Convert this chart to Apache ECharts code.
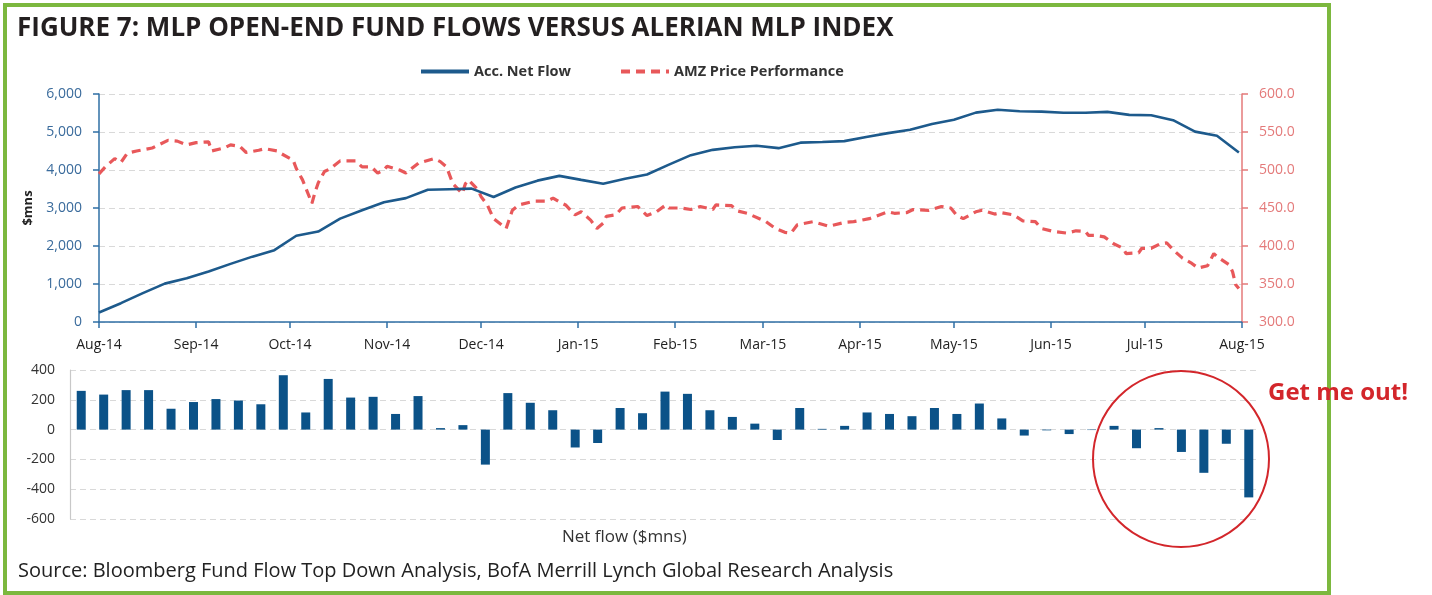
<!DOCTYPE html>
<html>
<head>
<meta charset="utf-8">
<script src="https://cdn.jsdelivr.net/npm/echarts@6/dist/echarts.min.js"></script>
<style>
  html, body { margin: 0; padding: 0; background: #fff; }
  #chart { width: 1432px; height: 595px; }
</style>
</head>
<body>
<div id="chart"></div>
<script>
// weekly points (Fridays)
const weekDates = [
  '2014-08-01', '2014-08-08', '2014-08-15', '2014-08-22', '2014-08-29', '2014-09-05', '2014-09-12', '2014-09-19',
  '2014-09-26', '2014-10-03', '2014-10-10', '2014-10-17', '2014-10-24', '2014-10-31', '2014-11-07', '2014-11-14',
  '2014-11-21', '2014-11-28', '2014-12-05', '2014-12-12', '2014-12-19', '2014-12-26', '2015-01-02', '2015-01-09',
  '2015-01-16', '2015-01-23', '2015-01-30', '2015-02-06', '2015-02-13', '2015-02-20', '2015-02-27', '2015-03-06',
  '2015-03-13', '2015-03-20', '2015-03-27', '2015-04-03', '2015-04-10', '2015-04-17', '2015-04-24', '2015-05-01',
  '2015-05-08', '2015-05-15', '2015-05-22', '2015-05-29', '2015-06-05', '2015-06-12', '2015-06-19', '2015-06-26',
  '2015-07-03', '2015-07-10', '2015-07-17', '2015-07-24', '2015-07-31'
];

// Acc. Net Flow ($mns)
const accNetFlow = [
  250, 495, 760, 1010, 1150, 1330, 1530, 1720, 1890, 2270, 2380, 2720, 2940, 3150, 3260, 3480,
  3495, 3510, 3290, 3540, 3720, 3845, 3740, 3640, 3770, 3880, 4140, 4390, 4530, 4600, 4640, 4575,
  4720, 4735, 4760, 4870, 4970, 5060, 5210, 5320, 5510, 5585, 5545, 5535, 5505, 5505, 5530, 5450,
  5440, 5310, 5010, 4900, 4460
];

// weekly net flow ($mns)
const netFlow = [
  260, 235, 265, 265, 140, 185, 205, 195, 170, 365, 115, 340, 215, 220, 105, 225,
  10, 30, -235, 245, 180, 130, -120, -90, 145, 110, 255, 240, 130, 85, 40, -70,
  145, 5, 25, 115, 105, 90, 145, 105, 175, 75, -40, -5, -30, -3, 25, -125,
  10, -150, -290, -95, -455
];

// AMZ price performance
const priceDates = [
  '2014-08-01', '2014-08-03', '2014-08-06', '2014-08-08', '2014-08-10', '2014-08-13', '2014-08-18', '2014-08-23', '2014-08-26', '2014-08-29',
  '2014-09-01', '2014-09-05', '2014-09-06', '2014-09-10', '2014-09-12', '2014-09-15', '2014-09-17', '2014-09-21', '2014-09-23', '2014-09-27',
  '2014-09-28', '2014-10-02', '2014-10-03', '2014-10-05', '2014-10-08', '2014-10-09', '2014-10-10', '2014-10-12', '2014-10-14', '2014-10-17',
  '2014-10-22', '2014-10-24', '2014-10-27', '2014-10-29', '2014-10-31', '2014-11-01', '2014-11-05', '2014-11-07', '2014-11-11', '2014-11-16',
  '2014-11-18', '2014-11-20', '2014-11-21', '2014-11-22', '2014-11-25', '2014-11-26', '2014-11-27', '2014-11-30', '2014-12-01', '2014-12-03',
  '2014-12-05', '2014-12-09', '2014-12-11', '2014-12-13', '2014-12-18', '2014-12-22', '2014-12-24', '2014-12-26', '2014-12-28', '2014-12-31',
  '2015-01-02', '2015-01-05', '2015-01-07', '2015-01-09', '2015-01-10', '2015-01-13', '2015-01-15', '2015-01-20', '2015-01-23', '2015-01-26',
  '2015-01-29', '2015-01-30', '2015-02-03', '2015-02-06', '2015-02-09', '2015-02-13', '2015-02-14', '2015-02-19', '2015-02-21', '2015-02-24',
  '2015-03-02', '2015-03-05', '2015-03-08', '2015-03-10', '2015-03-12', '2015-03-17', '2015-03-22', '2015-03-27', '2015-03-30', '2015-04-04',
  '2015-04-10', '2015-04-12', '2015-04-16', '2015-04-18', '2015-04-23', '2015-04-27', '2015-04-30', '2015-05-02', '2015-05-04', '2015-05-08',
  '2015-05-10', '2015-05-14', '2015-05-16', '2015-05-20', '2015-05-23', '2015-05-27', '2015-05-29', '2015-06-02', '2015-06-06', '2015-06-09',
  '2015-06-12', '2015-06-13', '2015-06-15', '2015-06-18', '2015-06-21', '2015-06-24', '2015-06-25', '2015-06-29', '2015-06-30', '2015-07-03',
  '2015-07-06', '2015-07-08', '2015-07-10', '2015-07-13', '2015-07-16', '2015-07-18', '2015-07-21', '2015-07-23', '2015-07-24', '2015-07-28',
  '2015-07-29', '2015-07-30', '2015-07-31'
];
const priceValues = [
  495, 504, 515, 510, 522, 525, 529, 539, 538, 533,
  536, 537, 525, 529, 533, 531, 523, 526, 528, 525,
  522, 513, 502, 487, 456, 471, 483, 498, 502, 512,
  512, 504, 504, 496, 500, 505, 500, 496, 509, 515,
  511, 504, 493, 482, 469, 482, 487, 474, 465, 454,
  436, 423, 447, 454, 459, 459, 463, 458, 454, 441,
  445, 434, 423, 430, 439, 441, 450, 452, 440, 445,
  454, 450, 450, 448, 452, 448, 454, 453, 446, 443,
  432, 423, 418, 417, 428, 432, 426, 431, 432, 436,
  445, 443, 444, 448, 447, 452, 450, 440, 436, 445,
  447, 442, 444, 441, 433, 432, 423, 419, 417, 420,
  419, 414, 414, 412, 403, 397, 390, 391, 397, 397,
  403, 404, 395, 384, 377, 371, 374, 390, 386, 375,
  366, 349, 344
];

const monthNames = ['Jan', 'Feb', 'Mar', 'Apr', 'May', 'Jun', 'Jul', 'Aug', 'Sep', 'Oct', 'Nov', 'Dec'];

const BLUE = '#1d5a8c';
const BAR = '#0b5288';
const RED = '#e8585a';
const AXISRED = '#e47a7a';
const FONT = 'Open Sans';
const DAY = 24 * 3600 * 1000;

const chart = echarts.init(document.getElementById('chart'));

const option = {
  backgroundColor: '#fff',
  animation: false,
  textStyle: { fontFamily: FONT },
  title: {
    text: 'FIGURE 7: MLP OPEN-END FUND FLOWS VERSUS ALERIAN MLP INDEX',
    left: 12,
    top: 11,
    textStyle: { fontFamily: FONT, fontWeight: 'bold', fontSize: 26, color: '#231f20' }
  },
  legend: {
    left: 414,
    top: 59,
    itemWidth: 48,
    itemHeight: 10,
    itemGap: 48,
    itemStyle: { opacity: 0 },
    lineStyle: { width: 4 },
    textStyle: { fontFamily: FONT, fontWeight: 'bold', fontSize: 14.5, color: '#333' },
    data: ['Acc. Net Flow', 'AMZ Price Performance']
  },
  grid: [
    { left: 99, right: 190, top: 94, bottom: 273 },
    { left: 70, right: 172, top: 370, bottom: 76 }
  ],
  xAxis: [
    {
      type: 'time',
      gridIndex: 0,
      min: '2014-08-01',
      max: '2015-08-01',
      splitNumber: 12,
      minInterval: 28 * DAY,
      maxInterval: 31 * DAY,
      axisLine: { lineStyle: { color: '#2f6fa5', width: 1.5 } },
      axisTick: { show: true, length: 6, lineStyle: { color: '#2f6fa5', width: 1.5 } },
      splitLine: { show: false },
      axisLabel: {
        margin: 16,
        fontSize: 14,
        color: '#222',
        showMinLabel: true,
        showMaxLabel: true,
        formatter: function (v) {
          const d = new Date(v);
          return monthNames[d.getMonth()] + '-' + String(d.getFullYear()).slice(2);
        }
      }
    },
    {
      type: 'category',
      gridIndex: 1,
      data: weekDates,
      axisLine: { show: false },
      axisTick: { show: false },
      axisLabel: { show: false }
    }
  ],
  yAxis: [
    {
      type: 'value',
      gridIndex: 0,
      min: 0,
      max: 6000,
      interval: 1000,
      name: '$mns',
      nameLocation: 'middle',
      nameGap: 64,
      nameRotate: 90,
      nameTextStyle: { fontFamily: FONT, fontWeight: 'bold', fontSize: 13, color: '#222' },
      axisLine: { show: true, lineStyle: { color: '#2f6fa5', width: 1.5 } },
      axisTick: { show: true, length: 6, lineStyle: { color: '#2f6fa5', width: 1.5 } },
      axisLabel: {
        margin: 17,
        fontSize: 14,
        color: '#3a6b9c',
        formatter: function (v) { return v.toLocaleString('en-US'); }
      },
      splitLine: { lineStyle: { color: '#d9d9d9', type: [6, 4], width: 1.2 } }
    },
    {
      type: 'value',
      gridIndex: 0,
      position: 'right',
      min: 300,
      max: 600,
      interval: 50,
      axisLine: { show: true, lineStyle: { color: AXISRED, width: 1.5 } },
      axisTick: { show: true, length: 6, lineStyle: { color: AXISRED, width: 1.5 } },
      axisLabel: {
        margin: 17,
        fontSize: 14,
        color: AXISRED,
        formatter: function (v) { return v.toFixed(1); }
      },
      splitLine: { show: false }
    },
    {
      type: 'value',
      gridIndex: 1,
      min: -600,
      max: 400,
      interval: 200,
      axisLine: { show: true, lineStyle: { color: '#c8c8c8', width: 1.2 } },
      axisTick: { show: false },
      axisLabel: { margin: 15, fontSize: 14, color: '#333' },
      splitLine: { lineStyle: { color: '#d9d9d9', type: [6, 4], width: 1.2 } }
    }
  ],
  series: [
    {
      name: 'Acc. Net Flow',
      type: 'line',
      xAxisIndex: 0,
      yAxisIndex: 0,
      symbol: 'none',
      color: BLUE,
      lineStyle: { color: BLUE, width: 2.6 },
      z: 3,
      data: weekDates.map((d, i) => [d, accNetFlow[i]])
    },
    {
      name: 'AMZ Price Performance',
      type: 'line',
      xAxisIndex: 0,
      yAxisIndex: 1,
      symbol: 'none',
      color: RED,
      lineStyle: { color: RED, width: 3.2, type: [9, 6] },
      z: 2,
      data: priceDates.map((d, i) => [d, priceValues[i]])
    },
    {
      name: 'Net flow',
      type: 'bar',
      xAxisIndex: 1,
      yAxisIndex: 2,
      barWidth: 9,
      itemStyle: { color: BAR },
      data: netFlow
    }
  ],
  graphic: [
    {
      type: 'rect',
      z: 0,
      shape: { x: 5, y: 5, width: 1324, height: 588 },
      style: { fill: 'none', stroke: '#7cb83e', lineWidth: 4 }
    },
    {
      type: 'text',
      left: 562,
      top: 529,
      style: { text: 'Net flow ($mns)', font: '17px "Open Sans"', fill: '#333' }
    },
    {
      type: 'text',
      left: 18,
      top: 561,
      style: {
        text: 'Source: Bloomberg Fund Flow Top Down Analysis, BofA Merrill Lynch Global Research Analysis',
        font: '20px "Open Sans"',
        fill: '#222'
      }
    },
    {
      type: 'circle',
      z: 100,
      shape: { cx: 1181, cy: 459, r: 88 },
      style: { fill: 'none', stroke: '#d3262b', lineWidth: 2 }
    },
    {
      type: 'text',
      z: 100,
      left: 1268,
      top: 381,
      style: { text: 'Get me out!', font: 'bold 24px "Open Sans"', fill: '#d3262b' }
    }
  ]
};

chart.setOption(option);
</script>
</body>
</html>
